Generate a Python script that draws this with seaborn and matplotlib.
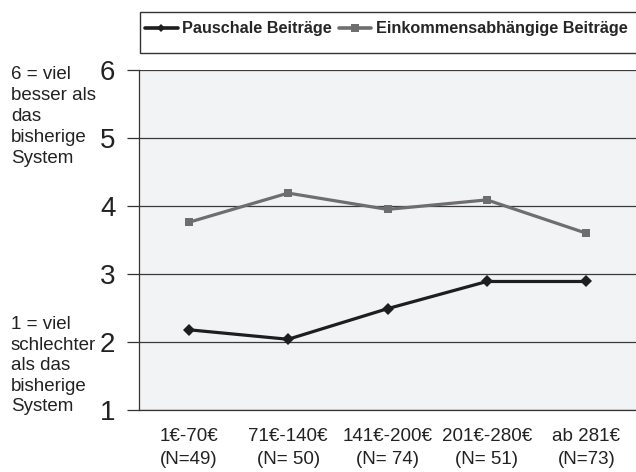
import pandas as pd
import matplotlib.pyplot as plt
import seaborn as sns
from matplotlib.patches import Rectangle
from matplotlib.ticker import FixedLocator

# Daten
kategorien = ["1€-70€\n(N=49)", "71€-140€\n(N= 50)", "141€-200€\n(N= 74)",
              "201€-280€\n(N= 51)", "ab 281€\n(N=73)"]
pauschal = [2.18, 2.04, 2.49, 2.89, 2.89]
einkommen = [3.76, 4.19, 3.95, 4.09, 3.60]
serien = ["Pauschale Beiträge", "Einkommensabhängige Beiträge"]
y_ticks = [1, 2, 3, 4, 5, 6]

df = pd.DataFrame({
    "x": list(range(len(kategorien))) * 2,
    "wert": pauschal + einkommen,
    "serie": [serien[0]] * len(pauschal) + [serien[1]] * len(einkommen),
})

sns.set_style("white")
plt.rcParams["font.family"] = ["Liberation Sans", "DejaVu Sans"]

W, H = 636, 472
fig = plt.figure(figsize=(W / 100, H / 100), dpi=100)
ax = fig.add_axes([139 / W, 62 / H, 497 / W, 340 / H])
ax.set_facecolor("#f2f3f5")

sns.lineplot(data=df, x="x", y="wert", hue="serie", style="serie",
             palette={serien[0]: "#1e1e1e", serien[1]: "#6e6e6e"},
             markers={serien[0]: "D", serien[1]: "s"}, dashes=False,
             markersize=6, linewidth=2.3, markeredgewidth=0, ax=ax, legend=False)

ax.set_xlim(-0.5, 4.5)
ax.set_ylim(1, 6)
ax.set_yticks(y_ticks)
ax.set_yticklabels([str(v) for v in y_ticks], fontsize=20, color="#222222")
ax.grid(axis="y", color="#3a3a3a", linewidth=0.9)
ax.set_axisbelow(True)

ax.set_xticks(range(len(kategorien)))
ax.set_xticklabels(kategorien, fontsize=13.5, color="#222222", linespacing=1.45)
ax.xaxis.set_minor_locator(FixedLocator([i - 0.5 for i in range(6)]))
ax.tick_params(axis="x", which="major", length=0, pad=13)
ax.tick_params(axis="x", which="minor", length=6, width=0.9, color="#333333", direction="out")
ax.tick_params(axis="y", length=9, width=0.9, color="#333333", direction="out", pad=8, left=True)
ax.set_xlabel("")
ax.set_ylabel("")

for s in ["top", "right"]:
    ax.spines[s].set_visible(False)
for s in ["left", "bottom"]:
    ax.spines[s].set_color("#333333")
    ax.spines[s].set_linewidth(0.9)

fig.text(11 / W, 1 - 66 / H, "6 = viel\nbesser als\ndas\nbisherige\nSystem", fontsize=13.5,
         va="top", ha="left", color="#222222", linespacing=1.3)
fig.text(11 / W, 1 - 316 / H, "1 = viel\nschlechter\nals das\nbisherige\nSystem", fontsize=13.5,
         va="top", ha="left", color="#222222", linespacing=1.27)

# Legendenrahmen separat, damit Groesse und Lage passen
fig.patches.append(Rectangle((140 / W, 1 - 53 / H), 500 / W, 41 / H, transform=fig.transFigure,
                             facecolor="white", edgecolor="#333333", linewidth=1.0))
handles = [
    plt.Line2D([], [], color="#1e1e1e", linewidth=2.6, marker="D", markersize=4.5, markeredgewidth=0),
    plt.Line2D([], [], color="#6e6e6e", linewidth=2.6, marker="s", markersize=5.5, markeredgewidth=0),
]
fig.legend(handles, serien, loc="center left", bbox_to_anchor=(145 / W, 1 - 29 / H), ncol=2,
           prop={"weight": "bold", "size": 11.7}, frameon=False,
           handlelength=2.0, handletextpad=0.3, columnspacing=0.4, borderpad=0,
           borderaxespad=0)

fig.savefig("out.png", dpi=100)
